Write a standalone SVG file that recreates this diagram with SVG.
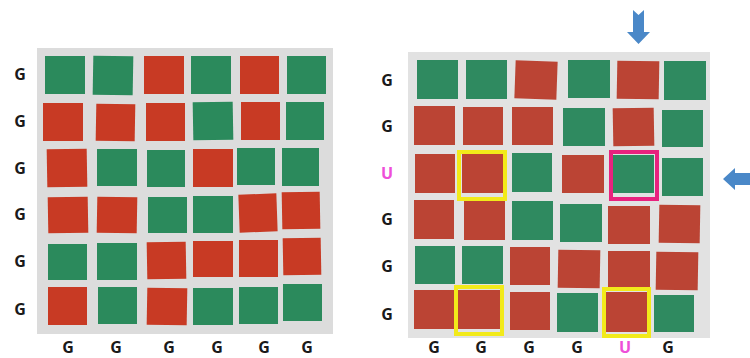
<svg xmlns="http://www.w3.org/2000/svg" width="750" height="358" viewBox="0 0 750 358">
<style>
.bd{fill:#dcdcdc}
.bd2{fill:#e2e2e2}
.r{fill:#c83a24}
.g{fill:#2b8a5c}
.r2{fill:#bb4434}
.g2{fill:#2f8a60}
.lb{font-family:"Open Sans","Liberation Sans",sans-serif;font-weight:700;font-size:16px;fill:#1a1a1a;text-anchor:middle}
.u{fill:#ee4fd8}
.yb{fill:none;stroke:#f2ea1a;stroke-width:4}
.mb{fill:none;stroke:#e8227e;stroke-width:4}
.ar{fill:#4a88c8}
</style>
<rect width="750" height="358" fill="#ffffff"/>
<g id="left-board">
<rect class="bd" x="37" y="48" width="296" height="286"/>
<rect class="g" x="45" y="56" width="40" height="38"/>
<rect class="g" x="93" y="56" width="40" height="39" transform="rotate(1 113 75)"/>
<rect class="r" x="144" y="56" width="40" height="38"/>
<rect class="g" x="191" y="56" width="40" height="38"/>
<rect class="r" x="240" y="56" width="39" height="38"/>
<rect class="g" x="287" y="56" width="39" height="38"/>
<rect class="r" x="43" y="103" width="40" height="38"/>
<rect class="r" x="96" y="104" width="39" height="37" transform="rotate(1 115 122)"/>
<rect class="r" x="146" y="103" width="39" height="38"/>
<rect class="g" x="193" y="102" width="40" height="38" transform="rotate(-1 213 121)"/>
<rect class="r" x="241" y="102" width="39" height="38"/>
<rect class="g" x="286" y="102" width="38" height="38"/>
<rect class="r" x="47" y="149" width="40" height="38" transform="rotate(-1 67 168)"/>
<rect class="g" x="97" y="149" width="40" height="37"/>
<rect class="g" x="147" y="150" width="38" height="37"/>
<rect class="r" x="193" y="149" width="40" height="38"/>
<rect class="g" x="237" y="148" width="38" height="37"/>
<rect class="g" x="282" y="148" width="37" height="38"/>
<rect class="r" x="48" y="197" width="40" height="36" transform="rotate(-1 68 215)"/>
<rect class="r" x="97" y="197" width="40" height="36" transform="rotate(1 117 215)"/>
<rect class="g" x="148" y="197" width="39" height="36"/>
<rect class="g" x="193" y="196" width="40" height="37"/>
<rect class="r" x="239" y="194" width="38" height="38" transform="rotate(-2 258 213)"/>
<rect class="r" x="282" y="192" width="38" height="37" transform="rotate(-1 301 210)"/>
<rect class="g" x="48" y="244" width="39" height="36"/>
<rect class="g" x="97" y="243" width="40" height="37"/>
<rect class="r" x="147" y="242" width="39" height="37" transform="rotate(-1 166 261)"/>
<rect class="r" x="193" y="241" width="40" height="36"/>
<rect class="r" x="239" y="240" width="39" height="37"/>
<rect class="r" x="283" y="238" width="38" height="37" transform="rotate(-1 302 257)"/>
<rect class="r" x="48" y="287" width="39" height="38"/>
<rect class="g" x="98" y="287" width="39" height="37"/>
<rect class="r" x="147" y="288" width="40" height="37" transform="rotate(1 167 306)"/>
<rect class="g" x="193" y="288" width="40" height="37"/>
<rect class="g" x="239" y="287" width="39" height="37"/>
<rect class="g" x="283" y="284" width="39" height="37"/>
</g>
<g id="left-labels">
<text class="lb" x="20" y="80">G</text>
<text class="lb" x="20" y="127">G</text>
<text class="lb" x="20" y="174">G</text>
<text class="lb" x="20" y="220">G</text>
<text class="lb" x="20" y="267">G</text>
<text class="lb" x="20" y="315">G</text>
<text class="lb" x="68" y="353">G</text>
<text class="lb" x="116" y="353">G</text>
<text class="lb" x="169" y="353">G</text>
<text class="lb" x="217" y="353">G</text>
<text class="lb" x="264" y="353">G</text>
<text class="lb" x="307" y="353">G</text>
</g>
<g id="right-board">
<rect class="bd2" x="408" y="52" width="302" height="286"/>
<rect class="g2" x="417" y="60" width="41" height="39"/>
<rect class="g2" x="466" y="60" width="41" height="39"/>
<rect class="r2" x="515" y="61" width="42" height="38" transform="rotate(2 536 80)"/>
<rect class="g2" x="568" y="60" width="42" height="38"/>
<rect class="r2" x="617" y="61" width="42" height="38" transform="rotate(1 638 80)"/>
<rect class="g2" x="664" y="61" width="42" height="39"/>
<rect class="r2" x="414" y="106" width="41" height="39"/>
<rect class="r2" x="463" y="107" width="40" height="38"/>
<rect class="r2" x="512" y="107" width="41" height="38"/>
<rect class="g2" x="563" y="108" width="42" height="38"/>
<rect class="r2" x="613" y="108" width="41" height="38" transform="rotate(-1 633 127)"/>
<rect class="g2" x="662" y="110" width="41" height="37"/>
<rect class="r2" x="415" y="154" width="40" height="39"/>
<rect class="r2" x="462" y="154" width="41" height="39"/>
<rect class="g2" x="512" y="153" width="40" height="39"/>
<rect class="r2" x="562" y="155" width="42" height="38"/>
<rect class="g2" x="612" y="155" width="42" height="38"/>
<rect class="g2" x="662" y="158" width="41" height="38"/>
<rect class="r2" x="414" y="200" width="40" height="39"/>
<rect class="r2" x="464" y="201" width="41" height="39"/>
<rect class="g2" x="512" y="201" width="41" height="39"/>
<rect class="g2" x="560" y="204" width="42" height="38"/>
<rect class="r2" x="608" y="206" width="42" height="38"/>
<rect class="r2" x="659" y="205" width="41" height="38" transform="rotate(1 679 224)"/>
<rect class="g2" x="415" y="246" width="40" height="38"/>
<rect class="g2" x="462" y="246" width="41" height="38"/>
<rect class="r2" x="510" y="247" width="40" height="38"/>
<rect class="r2" x="558" y="250" width="42" height="38" transform="rotate(1 579 269)"/>
<rect class="r2" x="608" y="251" width="42" height="38"/>
<rect class="r2" x="656" y="252" width="42" height="38" transform="rotate(1 677 271)"/>
<rect class="r2" x="414" y="290" width="40" height="39"/>
<rect class="r2" x="458" y="290" width="43" height="39"/>
<rect class="r2" x="510" y="292" width="40" height="38"/>
<rect class="g2" x="557" y="293" width="41" height="39"/>
<rect class="r2" x="605" y="292" width="43" height="40"/>
<rect class="g2" x="654" y="295" width="40" height="37"/>
</g>
<g id="highlights">
<rect class="yb" x="459" y="152" width="46" height="47"/>
<rect class="yb" x="456" y="287" width="46" height="47"/>
<rect class="yb" x="604" y="289" width="45" height="47"/>
<rect class="mb" x="611" y="152" width="46" height="47"/>
</g>
<g id="arrows">
<path class="ar" d="M633 10 L638.5 15 L644 10 L644 32 L650 32 L638.5 44 L627 32 L633 32 Z"/>
<path class="ar" d="M723 179 L735 168 L735 173 L750 173 L750 185 L735 185 L735 190 Z"/>
</g>
<g id="right-labels">
<text class="lb" x="387" y="86">G</text>
<text class="lb" x="387" y="132">G</text>
<text class="lb u" x="387" y="179">U</text>
<text class="lb" x="387" y="225">G</text>
<text class="lb" x="387" y="272">G</text>
<text class="lb" x="387" y="320">G</text>
<text class="lb" x="434" y="353">G</text>
<text class="lb" x="481" y="353">G</text>
<text class="lb" x="529" y="353">G</text>
<text class="lb" x="577" y="353">G</text>
<text class="lb u" x="625" y="353">U</text>
<text class="lb" x="668" y="353">G</text>
</g>
</svg>
